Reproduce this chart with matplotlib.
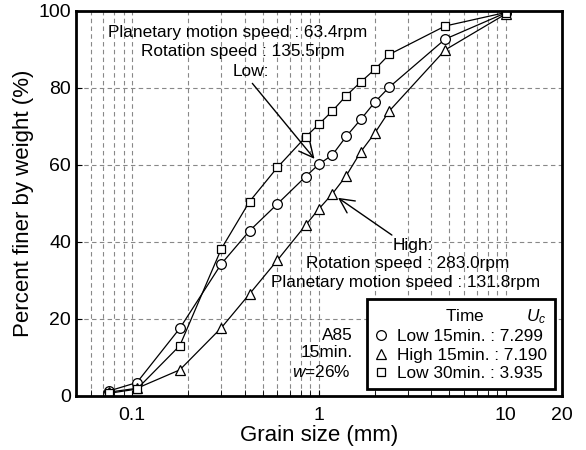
import numpy as np
import matplotlib.pyplot as plt
from matplotlib.lines import Line2D
from matplotlib.ticker import FixedLocator, NullFormatter

plt.rcParams['font.family'] = ['Liberation Sans', 'DejaVu Sans']
plt.rcParams['mathtext.fontset'] = 'custom'
plt.rcParams['mathtext.it'] = 'Liberation Sans:italic'
plt.rcParams['mathtext.rm'] = 'Liberation Sans'

# sieve sizes (mm)
size = [0.075, 0.106, 0.18, 0.3, 0.425, 0.6, 0.85, 1.0, 1.18, 1.4, 1.68, 2.0, 2.38, 4.75, 10.0]

# percent finer by weight
low15 = [1.3, 3.5, 17.6, 34.3, 42.9, 49.9, 57.0, 60.2, 62.6, 67.4, 71.9, 76.4, 80.2, 92.7, 99.5]
high15 = [1.0, 2.0, 6.8, 17.7, 26.5, 35.3, 44.4, 48.6, 52.5, 57.2, 63.5, 68.4, 74.0, 89.9, 99.2]
low30 = [0.7, 1.8, 13.1, 38.2, 50.5, 59.4, 67.3, 70.6, 74.0, 78.0, 81.6, 84.9, 88.7, 96.1, 99.6]

labels = ['Low 15min. : 7.299', 'High 15min. : 7.190', 'Low 30min. : 3.935']

fig = plt.figure(figsize=(5.86, 4.5), dpi=100)
ax = fig.add_axes([0.1297, 0.12, 0.829, 0.8556])

mk = dict(color='k', lw=0.9, mfc='white', mec='k', mew=0.9)
ax.plot(size, low15, marker='o', ms=7, **mk)
ax.plot(size, high15, marker='^', ms=7, **mk)
ax.plot(size, low30, marker='s', ms=6.3, **mk)

ax.set_xscale('log')
ax.set_xlim(0.05, 20)
ax.set_ylim(0, 100)

minor = [m * d for d in (0.01, 0.1, 1) for m in range(2, 10) if 0.05 < m * d < 10]
ax.xaxis.set_major_locator(FixedLocator([0.1, 1, 10, 20]))
ax.set_xticklabels(['0.1', '1', '10', '20'])
ax.xaxis.set_minor_locator(FixedLocator(minor))
ax.xaxis.set_minor_formatter(NullFormatter())
ax.set_yticks([0, 20, 40, 60, 80, 100])

gs = dict(color='#888888', ls=(0, (4, 3)), lw=0.8)
for x in minor + [0.1, 1, 10]:
    ax.axvline(x, zorder=0, **gs)
for y in [20, 40, 60, 80]:
    ax.axhline(y, zorder=0, **gs)

ax.tick_params(which='both', direction='in', labelsize=14, top=False, right=False)
ax.tick_params(which='major', length=4)
ax.tick_params(which='minor', length=4)
ax.tick_params(axis='x', pad=8)
for s in ax.spines.values():
    s.set_linewidth(2)

ax.set_xlabel('Grain size (mm)', fontsize=16, labelpad=1)
ax.set_ylabel('Percent finer by weight (%)', fontsize=16, labelpad=3)

# rotation conditions
fs = 12.4
ax.text(0.367, 94.5, 'Planetary motion speed : 63.4rpm', fontsize=fs, ha='center', va='center')
ax.text(0.39, 89.4, 'Rotation speed : 135.5rpm', fontsize=fs, ha='center', va='center')
ax.text(0.43, 84.2, 'Low:', fontsize=fs, ha='center', va='center')
ax.annotate('', xy=(1.0, 60.2), xytext=(0.44, 81.2),
            arrowprops=dict(arrowstyle='->', lw=1, color='k', shrinkA=0, shrinkB=5,
                            mutation_scale=26))

ax.text(3.2, 39.0, 'High:', fontsize=fs, ha='center', va='center')
ax.text(3.0, 34.3, 'Rotation speed : 283.0rpm', fontsize=fs, ha='center', va='center')
ax.text(2.9, 29.4, 'Planetary motion speed : 131.8rpm', fontsize=fs, ha='center', va='center')
ax.annotate('', xy=(1.18, 52.5), xytext=(2.46, 41.8),
            arrowprops=dict(arrowstyle='->', lw=1, color='k', shrinkA=0, shrinkB=5,
                            mutation_scale=26))

ax.text(1.52, 15.8, 'A85', fontsize=fs, ha='right', va='center')
ax.text(1.52, 11.2, '15min.', fontsize=fs, ha='right', va='center')
ax.text(1.47, 6.2, '$w$=26%', fontsize=fs, ha='right', va='center')

handles = [Line2D([], [], ls='none', marker=m, ms=s, mfc='white', mec='k', mew=0.9)
           for m, s in (('o', 7), ('^', 7), ('s', 6.3))]
leg = ax.legend(handles, labels, loc='lower right', bbox_to_anchor=(0.985, 0.018),
                fontsize=fs, title='Time         $U_c$', title_fontsize=fs,
                alignment='right', frameon=True, fancybox=False, framealpha=1,
                edgecolor='k', handlelength=0.8, handletextpad=0.5,
                borderpad=0.45, labelspacing=0.2, borderaxespad=0)
leg.get_frame().set_linewidth(2)

fig.savefig('out.png', dpi=100)
